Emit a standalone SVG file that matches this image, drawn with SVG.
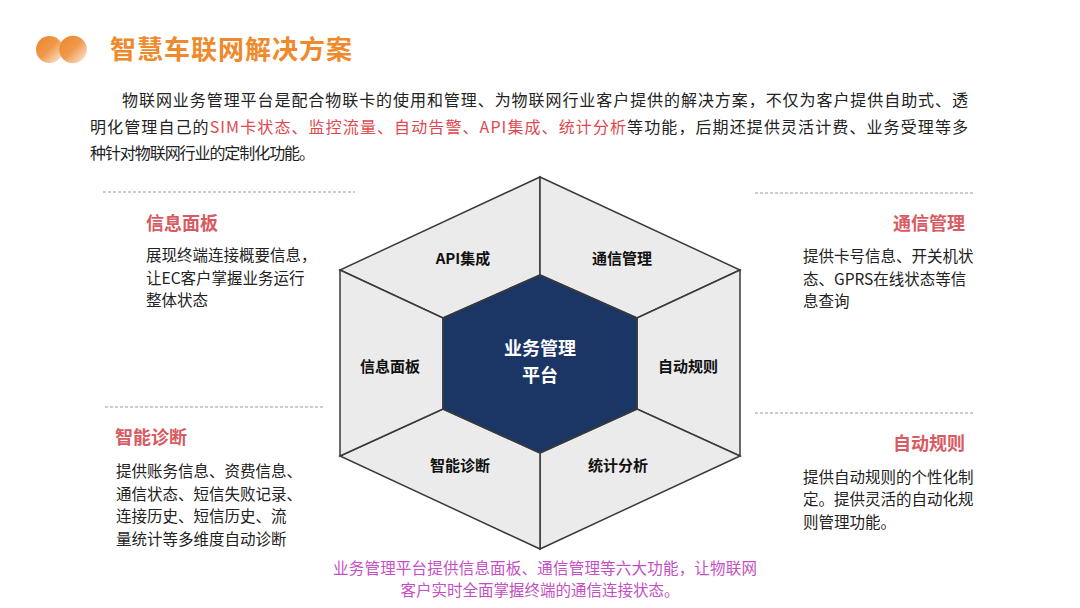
<svg xmlns="http://www.w3.org/2000/svg" width="1080" height="608" viewBox="0 0 1080 608">
<defs>
<linearGradient id="dot" x1="0" y1="0" x2="1" y2="1">
<stop offset="0" stop-color="#ee8226"/>
<stop offset="0.5" stop-color="#f09a4e"/>
<stop offset="1" stop-color="#fdf0e4"/>
</linearGradient>
<style>
text{font-family:"Noto Sans CJK SC","Noto Sans",sans-serif;}
.title{font-size:26px;font-weight:700;fill:#ef8a2c;}
.para{font-size:16px;fill:#222;}
.red{fill:#e0484e;}
.head{font-size:18px;font-weight:700;fill:#d85a62;}
.body{font-size:15.5px;fill:#222;}
.dash{stroke:#999;stroke-width:1;stroke-dasharray:3 2;fill:none;}
.piece{fill:#ebebeb;stroke:#3a3a3a;stroke-width:1.5;stroke-linejoin:miter;}
.core{fill:#1b3564;stroke:#3a3a3a;stroke-width:1.5;}
.lbl{font-size:15px;font-weight:700;fill:#111;text-anchor:middle;}
.clbl{font-size:18px;font-weight:700;fill:#fff;text-anchor:middle;}
.cap{font-size:15.5px;fill:#c44fc4;text-anchor:middle;}
</style>
</defs>
<rect width="1080" height="608" fill="#fff"/>

<g id="header">
<circle cx="49.5" cy="49.5" r="13.5" fill="url(#dot)"/>
<circle cx="73" cy="49.5" r="13.8" fill="url(#dot)"/>
<text class="title" x="110" y="59" textLength="242" lengthAdjust="spacing">智慧车联网解决方案</text>
</g>

<g id="intro">
<text class="para" x="122" y="106" textLength="846" lengthAdjust="spacing">物联网业务管理平台是配合物联卡的使用和管理、为物联网行业客户提供的解决方案，不仅为客户提供自助式、透</text>
<text class="para" x="90" y="133" textLength="878" lengthAdjust="spacing">明化管理自己的<tspan class="red">SIM卡状态、监控流量、自动告警、API集成、统计分析</tspan>等功能，后期还提供灵活计费、业务受理等多</text>
<text class="para" x="90" y="159" textLength="225" lengthAdjust="spacing">种针对物联网行业的定制化功能。</text>
</g>

<g id="panel-info">
<line class="dash" x1="103" y1="192" x2="355" y2="192"/>
<text class="head" x="146" y="230">信息面板</text>
<text class="body" x="146" y="261">展现终端连接概要信息，</text>
<text class="body" x="146" y="284">让EC客户掌握业务运行</text>
<text class="body" x="146" y="306">整体状态</text>
</g>

<g id="panel-diag">
<line class="dash" x1="105" y1="407" x2="324" y2="407"/>
<text class="head" x="115" y="444">智能诊断</text>
<text class="body" x="116" y="477">提供账务信息、资费信息、</text>
<text class="body" x="116" y="500">通信状态、短信失败记录、</text>
<text class="body" x="116" y="522">连接历史、短信历史、流</text>
<text class="body" x="116" y="545">量统计等多维度自动诊断</text>
</g>

<g id="panel-comm">
<line class="dash" x1="755" y1="193" x2="973" y2="193"/>
<text class="head" x="965" y="230" text-anchor="end">通信管理</text>
<text class="body" x="803" y="262">提供卡号信息、开关机状</text>
<text class="body" x="803" y="285">态、GPRS在线状态等信</text>
<text class="body" x="803" y="307">息查询</text>
</g>

<g id="panel-rule">
<line class="dash" x1="755" y1="413" x2="973" y2="413"/>
<text class="head" x="965" y="450" text-anchor="end">自动规则</text>
<text class="body" x="803" y="483">提供自动规则的个性化制</text>
<text class="body" x="803" y="505">定。提供灵活的自动化规</text>
<text class="body" x="803" y="528">则管理功能。</text>
</g>

<g id="hex-api">
<polygon class="piece" points="540,177 540,275 443,318 340,270"/>
<text class="lbl" x="463" y="264">API集成</text>
</g>
<g id="hex-comm">
<polygon class="piece" points="540,177 740,270 637,318 540,275"/>
<text class="lbl" x="622" y="264">通信管理</text>
</g>
<g id="hex-rule">
<polygon class="piece" points="740,270 740,456 637,409 637,318"/>
<text class="lbl" x="688" y="372">自动规则</text>
</g>
<g id="hex-stat">
<polygon class="piece" points="740,456 540,549 540,453 637,409"/>
<text class="lbl" x="618" y="471">统计分析</text>
</g>
<g id="hex-diag">
<polygon class="piece" points="540,549 340,456 443,409 540,453"/>
<text class="lbl" x="460" y="471">智能诊断</text>
</g>
<g id="hex-info">
<polygon class="piece" points="340,456 340,270 443,318 443,409"/>
<text class="lbl" x="390" y="372">信息面板</text>
</g>
<g id="hex-core">
<polygon class="core" points="540,275 637,318 637,409 540,453 443,409 443,318"/>
<text class="clbl" x="540" y="355">业务管理</text>
<text class="clbl" x="540" y="382">平台</text>
</g>

<g id="caption">
<text class="cap" x="545" y="574" textLength="424" lengthAdjust="spacing">业务管理平台提供信息面板、通信管理等六大功能，让物联网</text>
<text class="cap" x="540" y="596">客户实时全面掌握终端的通信连接状态。</text>
</g>
</svg>
